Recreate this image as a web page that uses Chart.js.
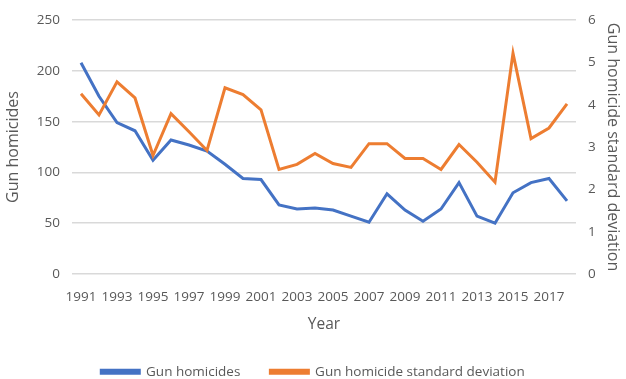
<!DOCTYPE html>
<html><head><meta charset="utf-8">
<script src="https://cdn.jsdelivr.net/npm/chart.js@4/dist/chart.umd.min.js"></script>
<style>html,body{margin:0;padding:0;background:#fff}#wrap{width:626px;height:379px}</style>
</head><body><div id="wrap"><canvas id="c" width="626" height="379"></canvas></div>
<script>
const years = ['1991','1992','1993','1994','1995','1996','1997','1998','1999','2000','2001','2002','2003','2004','2005','2006','2007','2008','2009','2010','2011','2012','2013','2014','2015','2016','2017','2018'];
const gunHomicides = [208,175,149,141,112,132,127,121,108,94,93,68,64,65,63,57,51,79,63,52,64,90,57,50,80,90,94,72];
const gunHomicideSD = [4.26,3.76,4.54,4.16,2.80,3.79,3.36,2.92,4.40,4.24,3.88,2.47,2.59,2.85,2.61,2.52,3.08,3.08,2.73,2.73,2.47,3.06,2.64,2.17,5.22,3.20,3.45,4.02];
const leftTicks = [0,50,100,150,200,250];
const rightTicks = [0,1,2,3,4,5,6];

const FONT = '"Open Sans", Lato, sans-serif';
const GREY = '#595959';
new Chart(document.getElementById('c'), {
  type: 'line',
  data: {
    labels: years,
    datasets: [
      {label:'Gun homicides', data: gunHomicides, yAxisID:'y', order:1, borderColor:'#4472C4', backgroundColor:'#4472C4', borderWidth:3, pointRadius:0, tension:0},
      {label:'Gun homicide standard deviation', data: gunHomicideSD, yAxisID:'y1', order:0, borderColor:'#ED7D31', backgroundColor:'#ED7D31', borderWidth:3, pointRadius:0, tension:0}
    ]
  },
  options: {
    responsive:false, animation:false,
    layout:{padding:{top:19,left:0,right:0,bottom:-9.5}},
    plugins:{
      legend:{position:'bottom', labels:{boxWidth:38, boxHeight:3, color:GREY, font:{family:FONT,size:13.5}, padding:30,
        sort:(a,b)=>a.datasetIndex-b.datasetIndex}},
      tooltip:{enabled:false}
    },
    scales:{
      x:{
        offset:true,
        grid:{display:false},
        border:{display:false},
        ticks:{color:GREY, font:{family:FONT,size:13.5}, maxRotation:0, autoSkip:false, padding:7,
          callback:function(v,i){return i%2===0?this.getLabelForValue(v):'';}},
        title:{display:true,text:'Year',color:GREY,font:{family:FONT,size:15.5},padding:{top:4,bottom:1}},
        afterFit:(s)=>{s.height=61;}
      },
      y:{
        position:'left', min:0, max:250,
        afterBuildTicks:(s)=>{s.ticks=leftTicks.map(v=>({value:v}));},
        grid:{color:'#d9d9d9', lineWidth:1.5, drawTicks:false},
        border:{display:false},
        ticks:{color:GREY, font:{family:FONT,size:13.5}, padding:12},
        title:{display:true,text:'Gun homicides',color:GREY,font:{family:FONT,size:16}},
        afterFit:(s)=>{s.width=72;}
      },
      y1:{
        position:'right', min:0, max:6,
        afterBuildTicks:(s)=>{s.ticks=rightTicks.map(v=>({value:v}));},
        grid:{display:false, drawTicks:false},
        border:{display:false},
        ticks:{color:GREY, font:{family:FONT,size:13.5}, padding:12},
        title:{display:true,text:'Gun homicide standard deviation',color:GREY,font:{family:FONT,size:16}},
        afterFit:(s)=>{s.width=50;}
      }
    }
  }
});
</script></body></html>
